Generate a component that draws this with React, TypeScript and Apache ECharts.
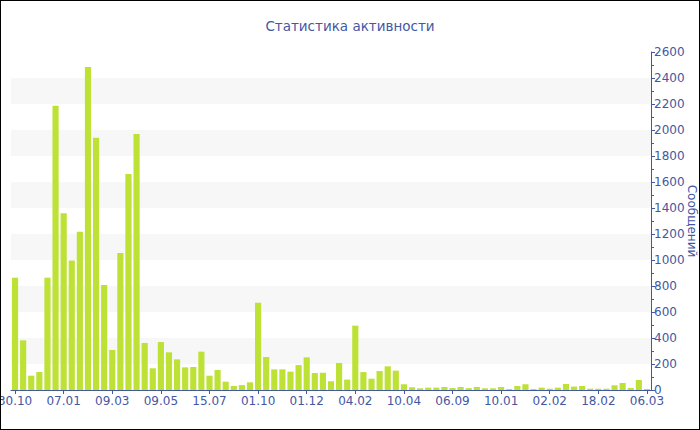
import React, { useEffect, useRef } from "react";
import * as echarts from "echarts";

const titleText = "Статистика активности";
const yAxisName = "Сообщений";

const tickLabels = [
  "30.10", "07.01", "09.03", "09.05", "15.07", "01.10", "01.12",
  "04.02", "10.04", "06.09", "10.01", "02.02", "18.02", "06.03",
];

const messages = [
  864, 382, 110, 138, 864, 2187, 1359, 997, 1218, 2485, 1941, 808, 308, 1054,
  1662, 1969, 362, 167, 369, 290, 236, 174, 177, 295, 110, 154, 64, 31,
  38, 59, 672, 254, 159, 159, 141, 192, 251, 131, 133, 67, 208, 80,
  495, 138, 87, 146, 182, 149, 44, 21, 13, 18, 18, 23, 15, 23,
  14, 23, 13, 13, 23, 8, 31, 44, 8, 18, 10, 18, 46, 26,
  31, 10, 10, 10, 36, 54, 15, 77, 8,
];

const LABEL_STEP = 6;
const categories = messages.map((_, i) => String(i));

const BLUE = "#4457a3";
const FONT = "DejaVu Sans";

export default function App() {
  const ref = useRef<HTMLDivElement>(null);

  useEffect(() => {
    document.body.style.margin = "0";
    if (!ref.current) return;
    const chart = echarts.init(ref.current, undefined, { renderer: "svg" });
    chart.setOption({
      animation: false,
      title: {
        text: titleText,
        left: "center",
        top: 13,
        textStyle: { color: BLUE, fontSize: 13.5, fontWeight: "normal", fontFamily: FONT },
      },
      grid: { left: 10, right: 48, top: 51, bottom: 39, containLabel: false, outerBoundsMode: "none" },
      xAxis: {
        type: "category",
        data: categories,
        boundaryGap: true,
        axisLine: { lineStyle: { color: BLUE, width: 1 } },
        axisTick: { show: true, interval: LABEL_STEP - 1, alignWithLabel: true, length: 4, lineStyle: { color: BLUE } },
        axisLabel: {
          interval: LABEL_STEP - 1,
          color: BLUE,
          fontSize: 12,
          fontFamily: FONT,
          margin: 5,
          hideOverlap: false,
          formatter: (_v: string, i: number) => (i % LABEL_STEP === 0 ? tickLabels[i / LABEL_STEP] : ""),
        },
        splitLine: { show: false },
      },
      yAxis: {
        type: "value",
        position: "right",
        min: 0,
        max: 2600,
        interval: 200,
        name: yAxisName,
        nameLocation: "middle",
        nameGap: 35,
        nameMoveOverlap: false,
        nameRotate: -90,
        nameTextStyle: { color: BLUE, fontSize: 12, fontFamily: FONT },
        axisLine: { show: true, lineStyle: { color: BLUE, width: 1 } },
        axisTick: { show: true, length: 4, lineStyle: { color: BLUE } },
        minorTick: { show: true, splitNumber: 2, length: 3, lineStyle: { color: BLUE } },
        axisLabel: {
          color: BLUE,
          fontSize: 12,
          fontFamily: FONT,
          margin: 3,
          formatter: (v: number) => String(v),
        },
        splitLine: { show: false },
        splitArea: { show: true, areaStyle: { color: ["#ffffff", "#f7f7f7"] } },
      },
      series: [
        {
          type: "bar",
          data: messages,
          barCategoryGap: "24%",
          itemStyle: { color: "#bde135" },
        },
      ],
    });
    return () => chart.dispose();
  }, []);

  return (
    <div
      style={{
        position: "fixed",
        left: 0,
        top: 0,
        width: 700,
        height: 430,
        border: "1px solid #000",
        boxSizing: "border-box",
        background: "#fff",
      }}
    >
      <div ref={ref} style={{ width: 698, height: 428 }} />
    </div>
  );
}
